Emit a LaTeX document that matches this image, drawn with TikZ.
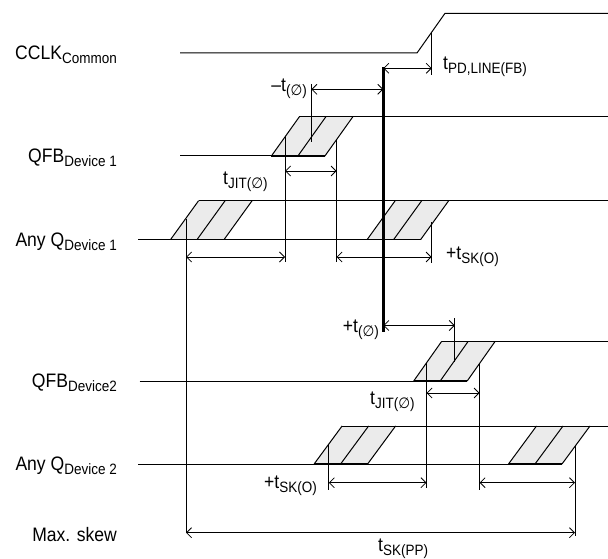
\documentclass[tikz,border=0pt]{standalone}
\usepackage{fontspec}
\setmainfont{Liberation Sans}[FakeStretch=0.9]
\newfontfamily\symfont{DejaVu Sans}[FakeStretch=0.9]
\usetikzlibrary{arrows.meta}
\definecolor{fillgray}{gray}{0.92}
\newcommand{\lo}[1]{\raisebox{-4pt}{\fontsize{15}{15}\selectfont #1}}
\newcommand{\nul}{{\symfont ∅}}
\newcommand{\skewbox}[3]{%
  \fill[fillgray] (#1,#2) -- (#1+28,#3) -- (#1+81.5,#3) -- (#1+53.5,#2) -- cycle;
  \draw[sig] (#1,#2) -- (#1+28,#3) (#1+26.5,#2) -- (#1+54.5,#3) (#1+53.5,#2) -- (#1+81.5,#3);
  \draw[line width=1.6pt] (#1,#2) -- (#1+53.5,#2);
}

\begin{document}
\begin{tikzpicture}[x=1pt, y=-1pt,
  sig/.style={line width=1pt},
  tick/.style={line width=0.8pt},
  dim/.style={<->, >={Straight Barb[length=5pt,width=10pt]}, line width=0.8pt},
  ref/.style={line width=2.6pt},
  every node/.style={inner sep=0pt, font=\fontsize{19.5}{20}\selectfont}]
\useasboundingbox (0,0) rectangle (608,559);

\node[anchor=base east] (cclk) at (117,60) {CCLK\lo{Common}};
\node[anchor=base east] (qfb1) at (117,162.5) {QFB\lo{Device 1}};
\node[anchor=base east] (anyq1) at (117,246) {Any Q\lo{Device 1}};
\node[anchor=base east] (qfb2) at (117,387.5) {QFB\lo{Device2}};
\node[anchor=base east] (anyq2) at (117,470.5) {Any Q\lo{Device 2}};
\node[anchor=base east] (skew) at (117,541.5) {Max. skew};

\node[anchor=base west] (tpd) at (443,70) {t\lo{PD,LINE(FB)}};
\node[anchor=base east] (tphn) at (307,92) {–t\lo{(\nul)}};
\node[anchor=base west] (tjit1) at (223,185) {t\lo{JIT(\nul)}};
\node[anchor=base west] (tsk1) at (446,259) {+t\lo{SK(O)}};
\node[anchor=base east] (tphp) at (379,332) {+t\lo{(\nul)}};
\node[anchor=base west] (tjit2) at (370,404) {t\lo{JIT(\nul)}};
\node[anchor=base west] (tsk2) at (264,488) {+t\lo{SK(O)}};
\node[anchor=base west] (tpp) at (378,551) {t\lo{SK(PP)}};

\skewbox{271.4}{156}{116.7}
\skewbox{170.6}{239.5}{200.7}
\skewbox{367.2}{239.5}{200.7}
\skewbox{413.7}{381}{341.3}
\skewbox{314.1}{464}{426}
\skewbox{508.5}{464}{426}

\draw[sig] (180,53) -- (417,53) -- (445,13.3) -- (608,13.3);
\draw[sig] (180,156) -- (325,156);
\draw[sig] (299.4,116.7) -- (608,116.7);
\draw[sig] (138,239.5) -- (420.7,239.5);
\draw[sig] (198.6,200.7) -- (608,200.7);
\draw[sig] (139.5,381) -- (467.2,381);
\draw[sig] (441.7,341.3) -- (608,341.3);
\draw[sig] (138,464) -- (562,464);
\draw[sig] (342.1,426) -- (608,426);

\coordinate (r0) at (383.3,67);
\coordinate (r1) at (383.3,332);
\draw[ref] (r0) -- (r1);

\coordinate (pd) at (431.7,68.3);
\coordinate (ph1) at (311.4,89.3);
\coordinate (j1a) at (285,171);
\coordinate (j1b) at (336.6,171);
\coordinate (s1a) at (186,257);
\coordinate (s1b) at (285,257);
\coordinate (s1c) at (336.6,257);
\coordinate (s1d) at (431.6,257);
\coordinate (ph2) at (454.8,325.5);
\coordinate (j2a) at (426.5,393);
\coordinate (j2b) at (479.6,393);
\coordinate (s2a) at (328.8,482.7);
\coordinate (s2b) at (426.5,482.7);
\coordinate (s2c) at (479.6,482.7);
\coordinate (s2d) at (575,482.7);
\coordinate (ppa) at (186,532.7);
\coordinate (ppb) at (575,532.7);

\draw[tick] (431.7,32) -- (431.7,75);
\draw[tick] (311.4,84) -- (311.4,142);
\draw[tick] (285,136) -- (285,262);
\draw[tick] (336.6,140) -- (336.6,262);
\draw[tick] (186,219) -- (ppa);
\draw[tick] (431.6,222) -- (431.6,263);
\draw[tick] (454.8,318) -- (454.8,362);
\draw[tick] (426.5,363) -- (426.5,488);
\draw[tick] (479.6,364) -- (479.6,490);
\draw[tick] (328.8,443.5) -- (328.8,490);
\draw[tick] (575,444.7) -- (575,536);

\draw[dim] (r0 |- pd) -- (pd);
\draw[dim] (ph1) -- (r0 |- ph1);
\draw[dim] (j1a) -- (j1b);
\draw[dim] (s1a) -- (s1b);
\draw[dim] (s1c) -- (s1d);
\draw[dim] (r0 |- ph2) -- (ph2);
\draw[dim] (j2a) -- (j2b);
\draw[dim] (s2a) -- (s2b);
\draw[dim] (s2c) -- (s2d);
\draw[dim] (ppa) -- (ppb);
\end{tikzpicture}
\end{document}
